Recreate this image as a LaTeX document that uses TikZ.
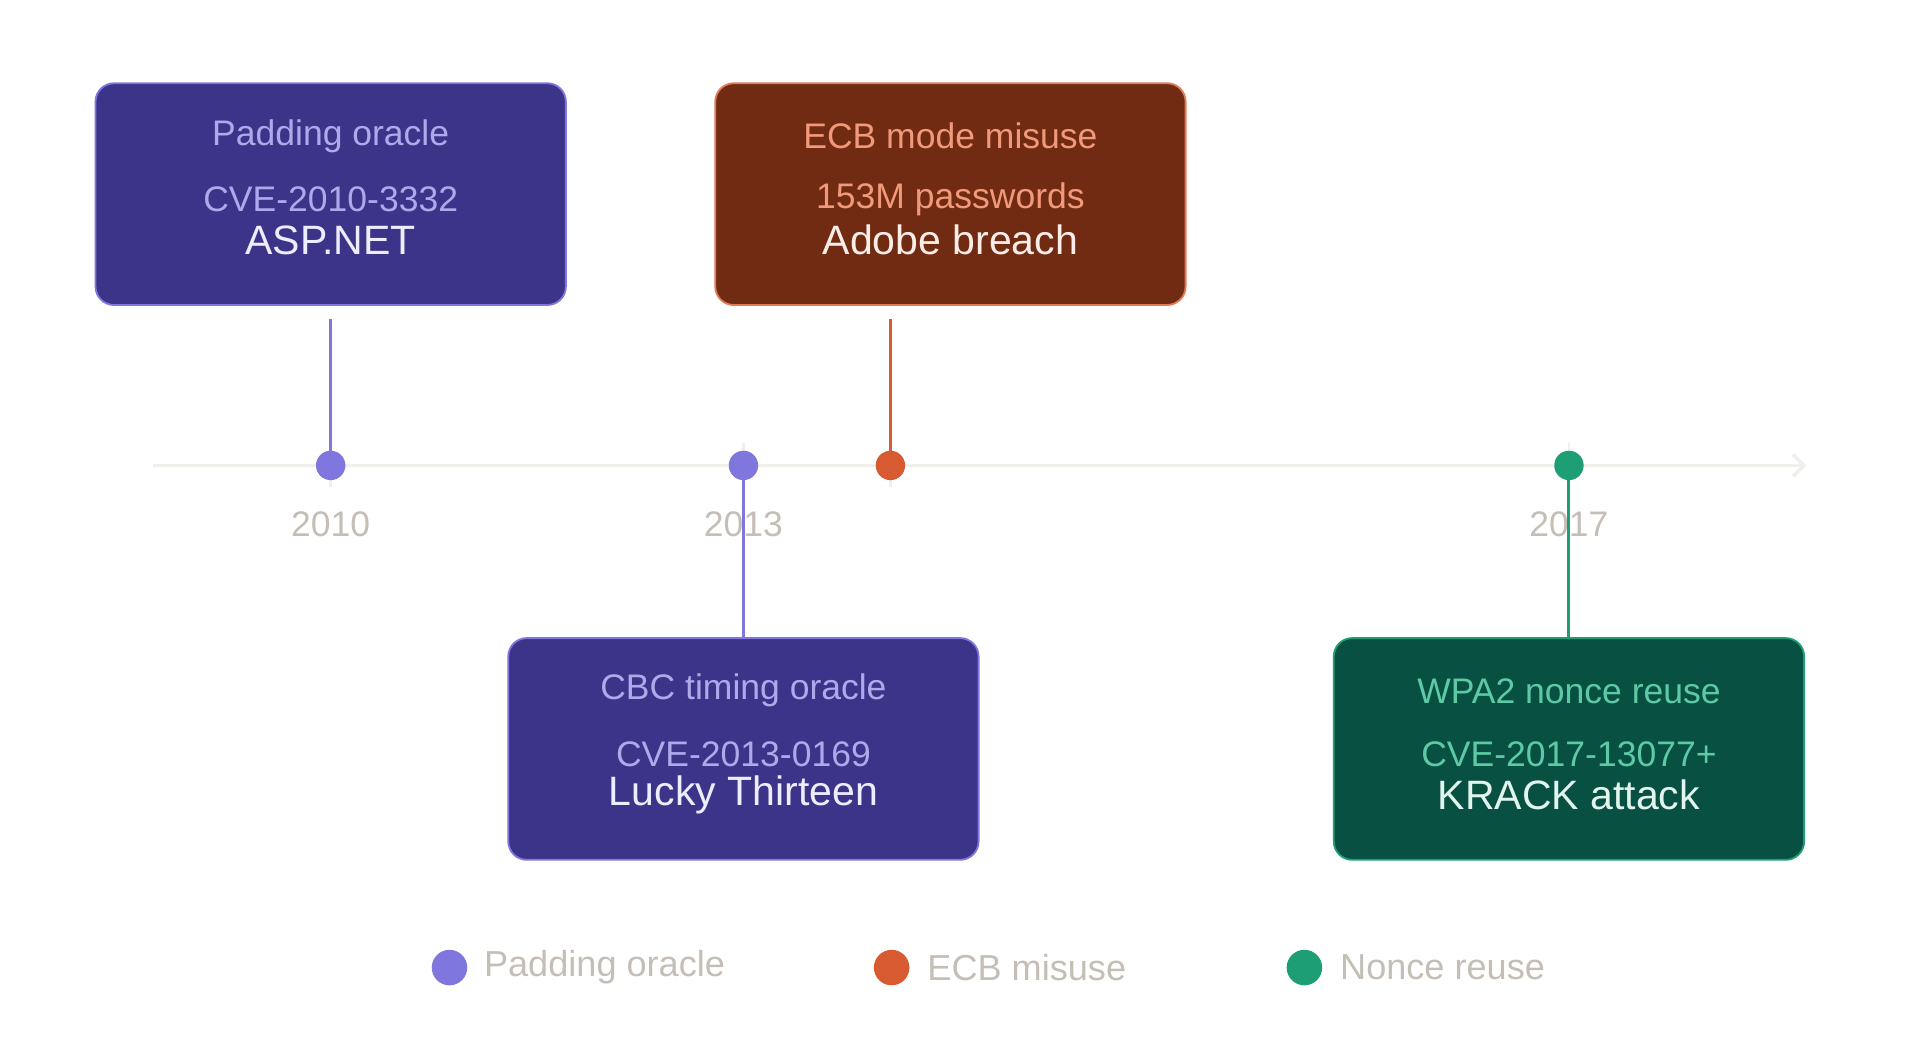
\documentclass[tikz,border=0pt]{standalone}
\usepackage{fontspec}
\setmainfont{Liberation Sans}
\usetikzlibrary{arrows.meta}
\definecolor{pu}{HTML}{7F77DD}\definecolor{puf}{HTML}{3C3489}\definecolor{put}{HTML}{EEEDFE}\definecolor{pul}{HTML}{AFA9EC}
\definecolor{or}{HTML}{D85A30}\definecolor{orf}{HTML}{712B13}\definecolor{ort}{HTML}{FAECE7}\definecolor{orl}{HTML}{F0997B}
\definecolor{gr}{HTML}{1D9E75}\definecolor{grf}{HTML}{085041}\definecolor{grt}{HTML}{E1F5EE}\definecolor{grl}{HTML}{5DCAA5}
\definecolor{ax}{HTML}{F1EFEC}\definecolor{lab}{HTML}{C4BEB6}
\begin{document}
\begin{tikzpicture}[x=1pt,y=-1pt,
  card/.style={rounded corners=15pt,minimum width=384pt,minimum height=181pt,line width=1.5pt,inner sep=0pt},
  ttl/.style={font=\fontsize{33.5}{36}\selectfont,inner sep=0pt},
  sub/.style={font=\fontsize{29}{32}\selectfont,inner sep=0pt},
  dot/.style={circle,inner sep=0pt,minimum size=24pt},
  ldot/.style={circle,inner sep=0pt,minimum size=29pt},
  yr/.style={text=lab,font=\fontsize{29}{32}\selectfont},
  leg/.style={text=lab,font=\fontsize{29.5}{32}\selectfont,anchor=west,inner sep=0pt},
  conn/.style={line width=2.5pt}]
\useasboundingbox (0,0) rectangle (1566,862);
\coordinate (a0) at (125,380); \coordinate (a1) at (1475,380);
\draw[ax,line width=3pt,-{Straight Barb[length=9pt,width=18pt,line width=3pt]}] (a0) -- (a1);
\foreach \x in {270,607,727,1281} \draw[ax,line width=2pt] (\x,362) -- (\x,398);
\newcommand{\cardtext}[6]{%
  \node[ttl,text=#2] at ([yshift=-37.5pt]#1.center) {#4};
  \node[sub,text=#3] at ([yshift=-4.5pt]#1.center) {#5};
  \node[sub,text=#3] at ([yshift=47.5pt]#1.center) {#6};}
\node[card,fill=puf,draw=pu] (asp) at (270,158.5) {};
\node[card,fill=orf,draw=or!80!white] (adb) at (776,158.5) {};
\node[card,fill=puf,draw=pu] (lky) at (607,611.5) {};
\node[card,fill=grf,draw=gr] (krk) at (1281,611.5) {};
\cardtext{asp}{put}{pul}{ASP.NET}{CVE-2010-3332}{Padding oracle}
\cardtext{adb}{ort}{orl}{Adobe breach}{153M passwords}{ECB mode misuse}
\cardtext{lky}{put}{pul}{Lucky Thirteen}{CVE-2013-0169}{CBC timing oracle}
\cardtext{krk}{grt}{grl}{KRACK attack}{CVE-2017-13077+}{WPA2 nonce reuse}
\node[dot,fill=pu] (d1) at (270,380) {};
\node[dot,fill=pu] (d2) at (607,380) {};
\node[dot,fill=or] (d3) at (727,380) {};
\node[dot,fill=gr] (d4) at (1281,380) {};
\draw[conn,pu] (asp.south) ++(0,11) -- ([yshift=-8pt]d1.north);
\draw[conn,or] (adb.south -| d3) ++(0,11) -- ([yshift=-8pt]d3.north);
\node[yr] (y1) at (270,428) {2010};
\node[yr] (y2) at (607,428) {2013};
\node[yr] (y3) at (1281,428) {2017};
\draw[conn,pu] ([yshift=8pt]d2.south) -- (lky.north);
\draw[conn,gr] ([yshift=8pt]d4.south) -- (krk.north);
\node[ldot,fill=pu] (l1) at (367,790) {};
\node[leg] (t1) at (395,790) {Padding oracle};
\node[ldot,fill=or] (l2) at (728,790) {};
\node[leg] (t2) at (757,790) {ECB misuse};
\node[ldot,fill=gr] (l3) at (1065,790) {};
\node[leg] (t3) at (1094,790) {Nonce reuse};
\end{tikzpicture}
\end{document}
